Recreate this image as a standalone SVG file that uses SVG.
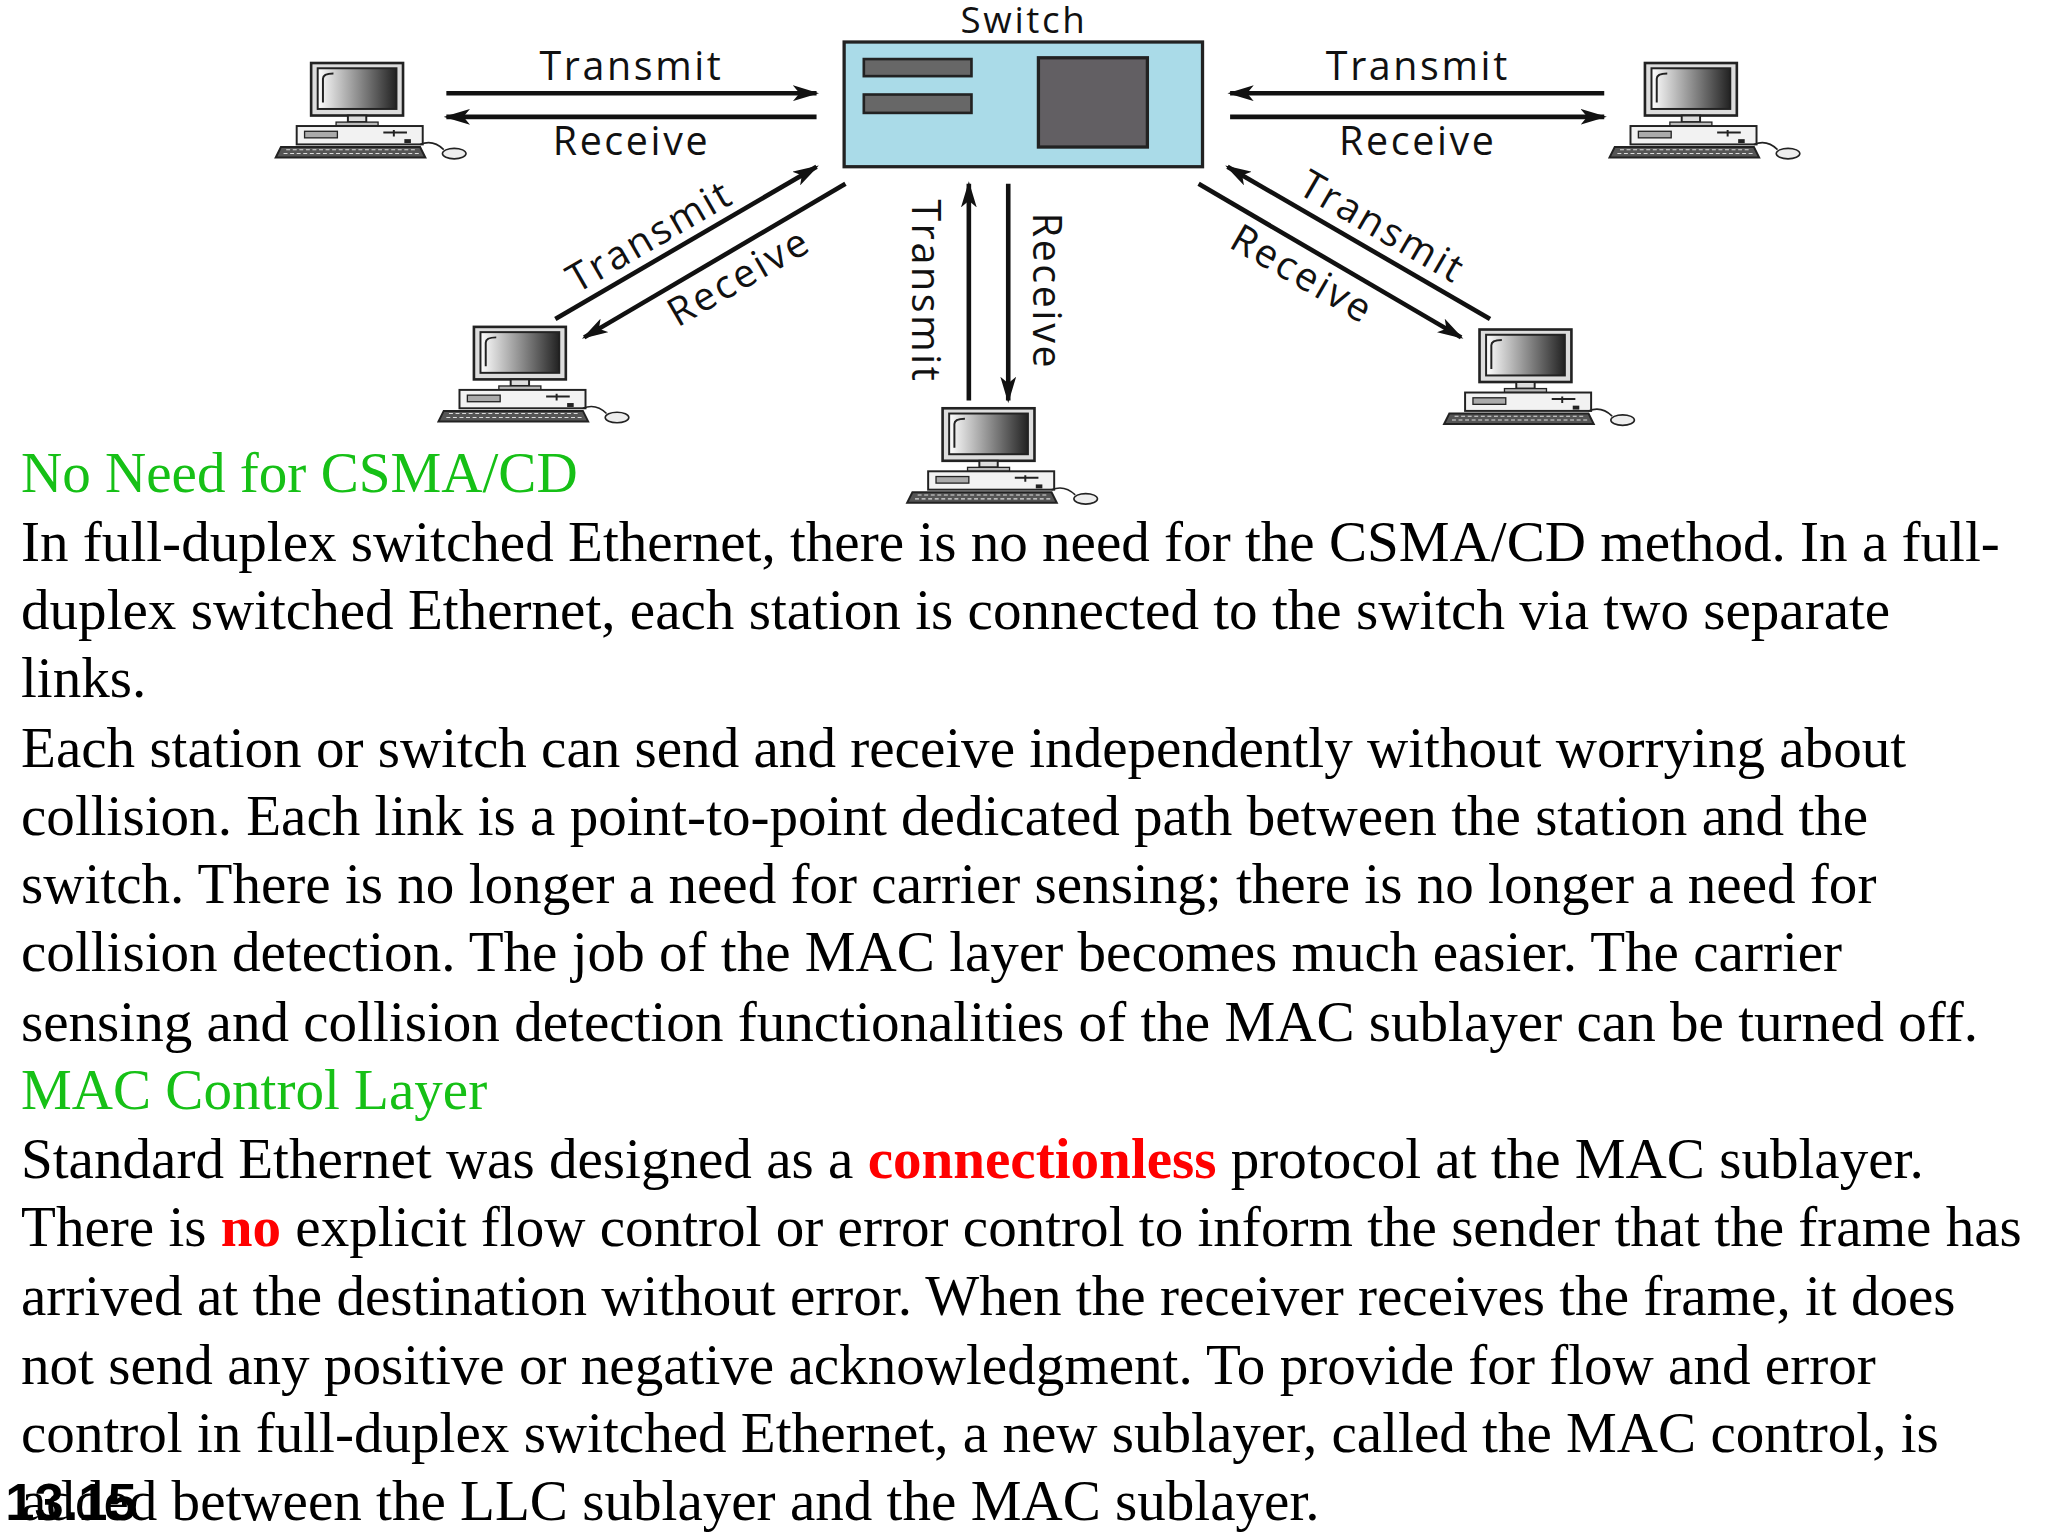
<svg xmlns="http://www.w3.org/2000/svg" width="2048" height="1536" viewBox="0 0 2048 1536">
<style>
.lbl{font-family:"Open Sans","DejaVu Sans",sans-serif;font-size:30px;letter-spacing:2px;fill:#111;text-anchor:middle}
.ln{stroke:#111;stroke-width:3.5;fill:none}
.t{font-family:"Liberation Serif",serif;font-size:43.5px;fill:#000}
.g{fill:#16c016}
.r{fill:#f00;font-weight:bold}
</style>
<defs>
<marker id="ah" viewBox="0 0 20 12" refX="18" refY="6" markerWidth="20" markerHeight="12" markerUnits="userSpaceOnUse" orient="auto"><path d="M0,0 L20,6 L0,12 L5,6 Z" fill="#111"/></marker>
<linearGradient id="scr" x1="0" x2="1"><stop offset="0" stop-color="#fff"/><stop offset="1" stop-color="#222"/></linearGradient>
<symbol id="pc" overflow="visible">
<rect x="27" y="0" width="70" height="40" fill="#ddd" stroke="#222" stroke-width="2"/>
<rect x="32" y="4" width="60" height="31" fill="url(#scr)" stroke="#222" stroke-width="1.5"/>
<path d="M36,30 V12 Q36,8 44,8" stroke="#222" stroke-width="1.5" fill="none"/>
<rect x="55" y="40" width="14" height="5" fill="#ddd" stroke="#222" stroke-width="1.5"/>
<rect x="46" y="45" width="32" height="3" fill="#bbb" stroke="#222" stroke-width="1"/>
<rect x="16" y="48" width="96" height="14" fill="#f2f2f2" stroke="#222" stroke-width="1.5"/>
<rect x="22" y="52" width="25" height="5" fill="#aaa" stroke="#222" stroke-width="1"/>
<path d="M82,53 H100 M90,51 V56" stroke="#222" stroke-width="1.5"/>
<rect x="98" y="58" width="5" height="3" fill="#222"/>
<path d="M4,64 H110 L114,72 H0 Z" fill="#555" stroke="#222" stroke-width="1.5"/>
<path d="M8,66 H106 M6,69 H110" stroke="#ddd" stroke-width="0.8" stroke-dasharray="3 2"/>
<path d="M110,62 Q120,58 128,66" stroke="#222" stroke-width="1.2" fill="none"/>
<ellipse cx="136" cy="69" rx="9" ry="4" fill="#eee" stroke="#222" stroke-width="1.2"/>
</symbol>
</defs>
<rect width="2048" height="1536" fill="#fff"/>
<g transform="scale(1.3128)">
<g id="switch">
<text class="lbl" x="780" y="25" style="font-size:28px">Switch</text>
<rect x="643" y="32" width="273" height="95" fill="#aadbe8" stroke="#222" stroke-width="2.5"/>
<rect x="658" y="45" width="82" height="13" fill="#676767" stroke="#222" stroke-width="2"/>
<rect x="658" y="72" width="82" height="14" fill="#676767" stroke="#222" stroke-width="2"/>
<rect x="791" y="44" width="83" height="68" fill="#625f63" stroke="#222" stroke-width="2.5"/>
</g>
<g id="pc-top-left"><use href="#pc" x="210" y="48"/></g>
<g id="pc-top-right"><use href="#pc" x="1226" y="48"/></g>
<g id="pc-bottom-left"><use href="#pc" x="334" y="249"/></g>
<g id="pc-bottom-middle"><use href="#pc" x="691" y="311"/></g>
<g id="pc-bottom-right"><use href="#pc" x="1100" y="251"/></g>
<g id="connectors">
<line class="ln" x1="340" y1="71" x2="622" y2="71" marker-end="url(#ah)"/>
<line class="ln" x1="622" y1="89" x2="340" y2="89" marker-end="url(#ah)"/>
<line class="ln" x1="1222" y1="71" x2="937" y2="71" marker-end="url(#ah)"/>
<line class="ln" x1="937" y1="89" x2="1222" y2="89" marker-end="url(#ah)"/>
<line class="ln" x1="423" y1="243" x2="622" y2="127" marker-end="url(#ah)"/>
<line class="ln" x1="644" y1="140" x2="445" y2="257" marker-end="url(#ah)"/>
<line class="ln" x1="738" y1="305" x2="738" y2="140" marker-end="url(#ah)"/>
<line class="ln" x1="768" y1="140" x2="768" y2="305" marker-end="url(#ah)"/>
<line class="ln" x1="1135" y1="243" x2="935" y2="127" marker-end="url(#ah)"/>
<line class="ln" x1="913" y1="140" x2="1113" y2="257" marker-end="url(#ah)"/>
<text class="lbl" x="481" y="61">Transmit</text>
<text class="lbl" x="481" y="118">Receive</text>
<text class="lbl" x="1080" y="61">Transmit</text>
<text class="lbl" x="1080" y="118">Receive</text>
<text class="lbl" transform="translate(495,180) rotate(-30)" y="10">Transmit</text>
<text class="lbl" transform="translate(563,211) rotate(-30)" y="10">Receive</text>
<text class="lbl" transform="translate(705,222) rotate(90)" y="10">Transmit</text>
<text class="lbl" transform="translate(797,222) rotate(90)" y="10">Receive</text>
<text class="lbl" transform="translate(1053,173) rotate(30)" y="10">Transmit</text>
<text class="lbl" transform="translate(992,209) rotate(30)" y="10">Receive</text>
</g>
<g id="body">
<text class="t g" x="16" y="375">No Need for CSMA/CD</text>
<text class="t" x="16" y="427">In full-duplex switched Ethernet, there is no need for the CSMA/CD method. In a full-</text>
<text class="t" x="16" y="479">duplex switched Ethernet, each station is connected to the switch via two separate</text>
<text class="t" x="16" y="531">links.</text>
<text class="t" x="16" y="584">Each station or switch can send and receive independently without worrying about</text>
<text class="t" x="16" y="636">collision. Each link is a point-to-point dedicated path between the station and the</text>
<text class="t" x="16" y="688">switch. There is no longer a need for carrier sensing; there is no longer a need for</text>
<text class="t" x="16" y="740">collision detection. The job of the MAC layer becomes much easier. The carrier</text>
<text class="t" x="16" y="793">sensing and collision detection functionalities of the MAC sublayer can be turned off.</text>
<text class="t g" x="16" y="845">MAC Control Layer</text>
<text class="t" x="16" y="897">Standard Ethernet was designed as a <tspan class="r">connectionless</tspan> protocol at the MAC sublayer.</text>
<text class="t" x="16" y="949">There is <tspan class="r">no</tspan> explicit flow control or error control to inform the sender that the frame has</text>
<text class="t" x="16" y="1002">arrived at the destination without error. When the receiver receives the frame, it does</text>
<text class="t" x="16" y="1054">not send any positive or negative acknowledgment. To provide for flow and error</text>
<text class="t" x="16" y="1106">control in full-duplex switched Ethernet, a new sublayer, called the MAC control, is</text>
<text class="t" x="16" y="1158">added between the LLC sublayer and the MAC sublayer.</text>
<text x="4" y="1158" style="font-family:'Liberation Sans',sans-serif;font-weight:bold;font-size:40px;fill:#000">13.15</text>
</g>
</g>
</svg>
